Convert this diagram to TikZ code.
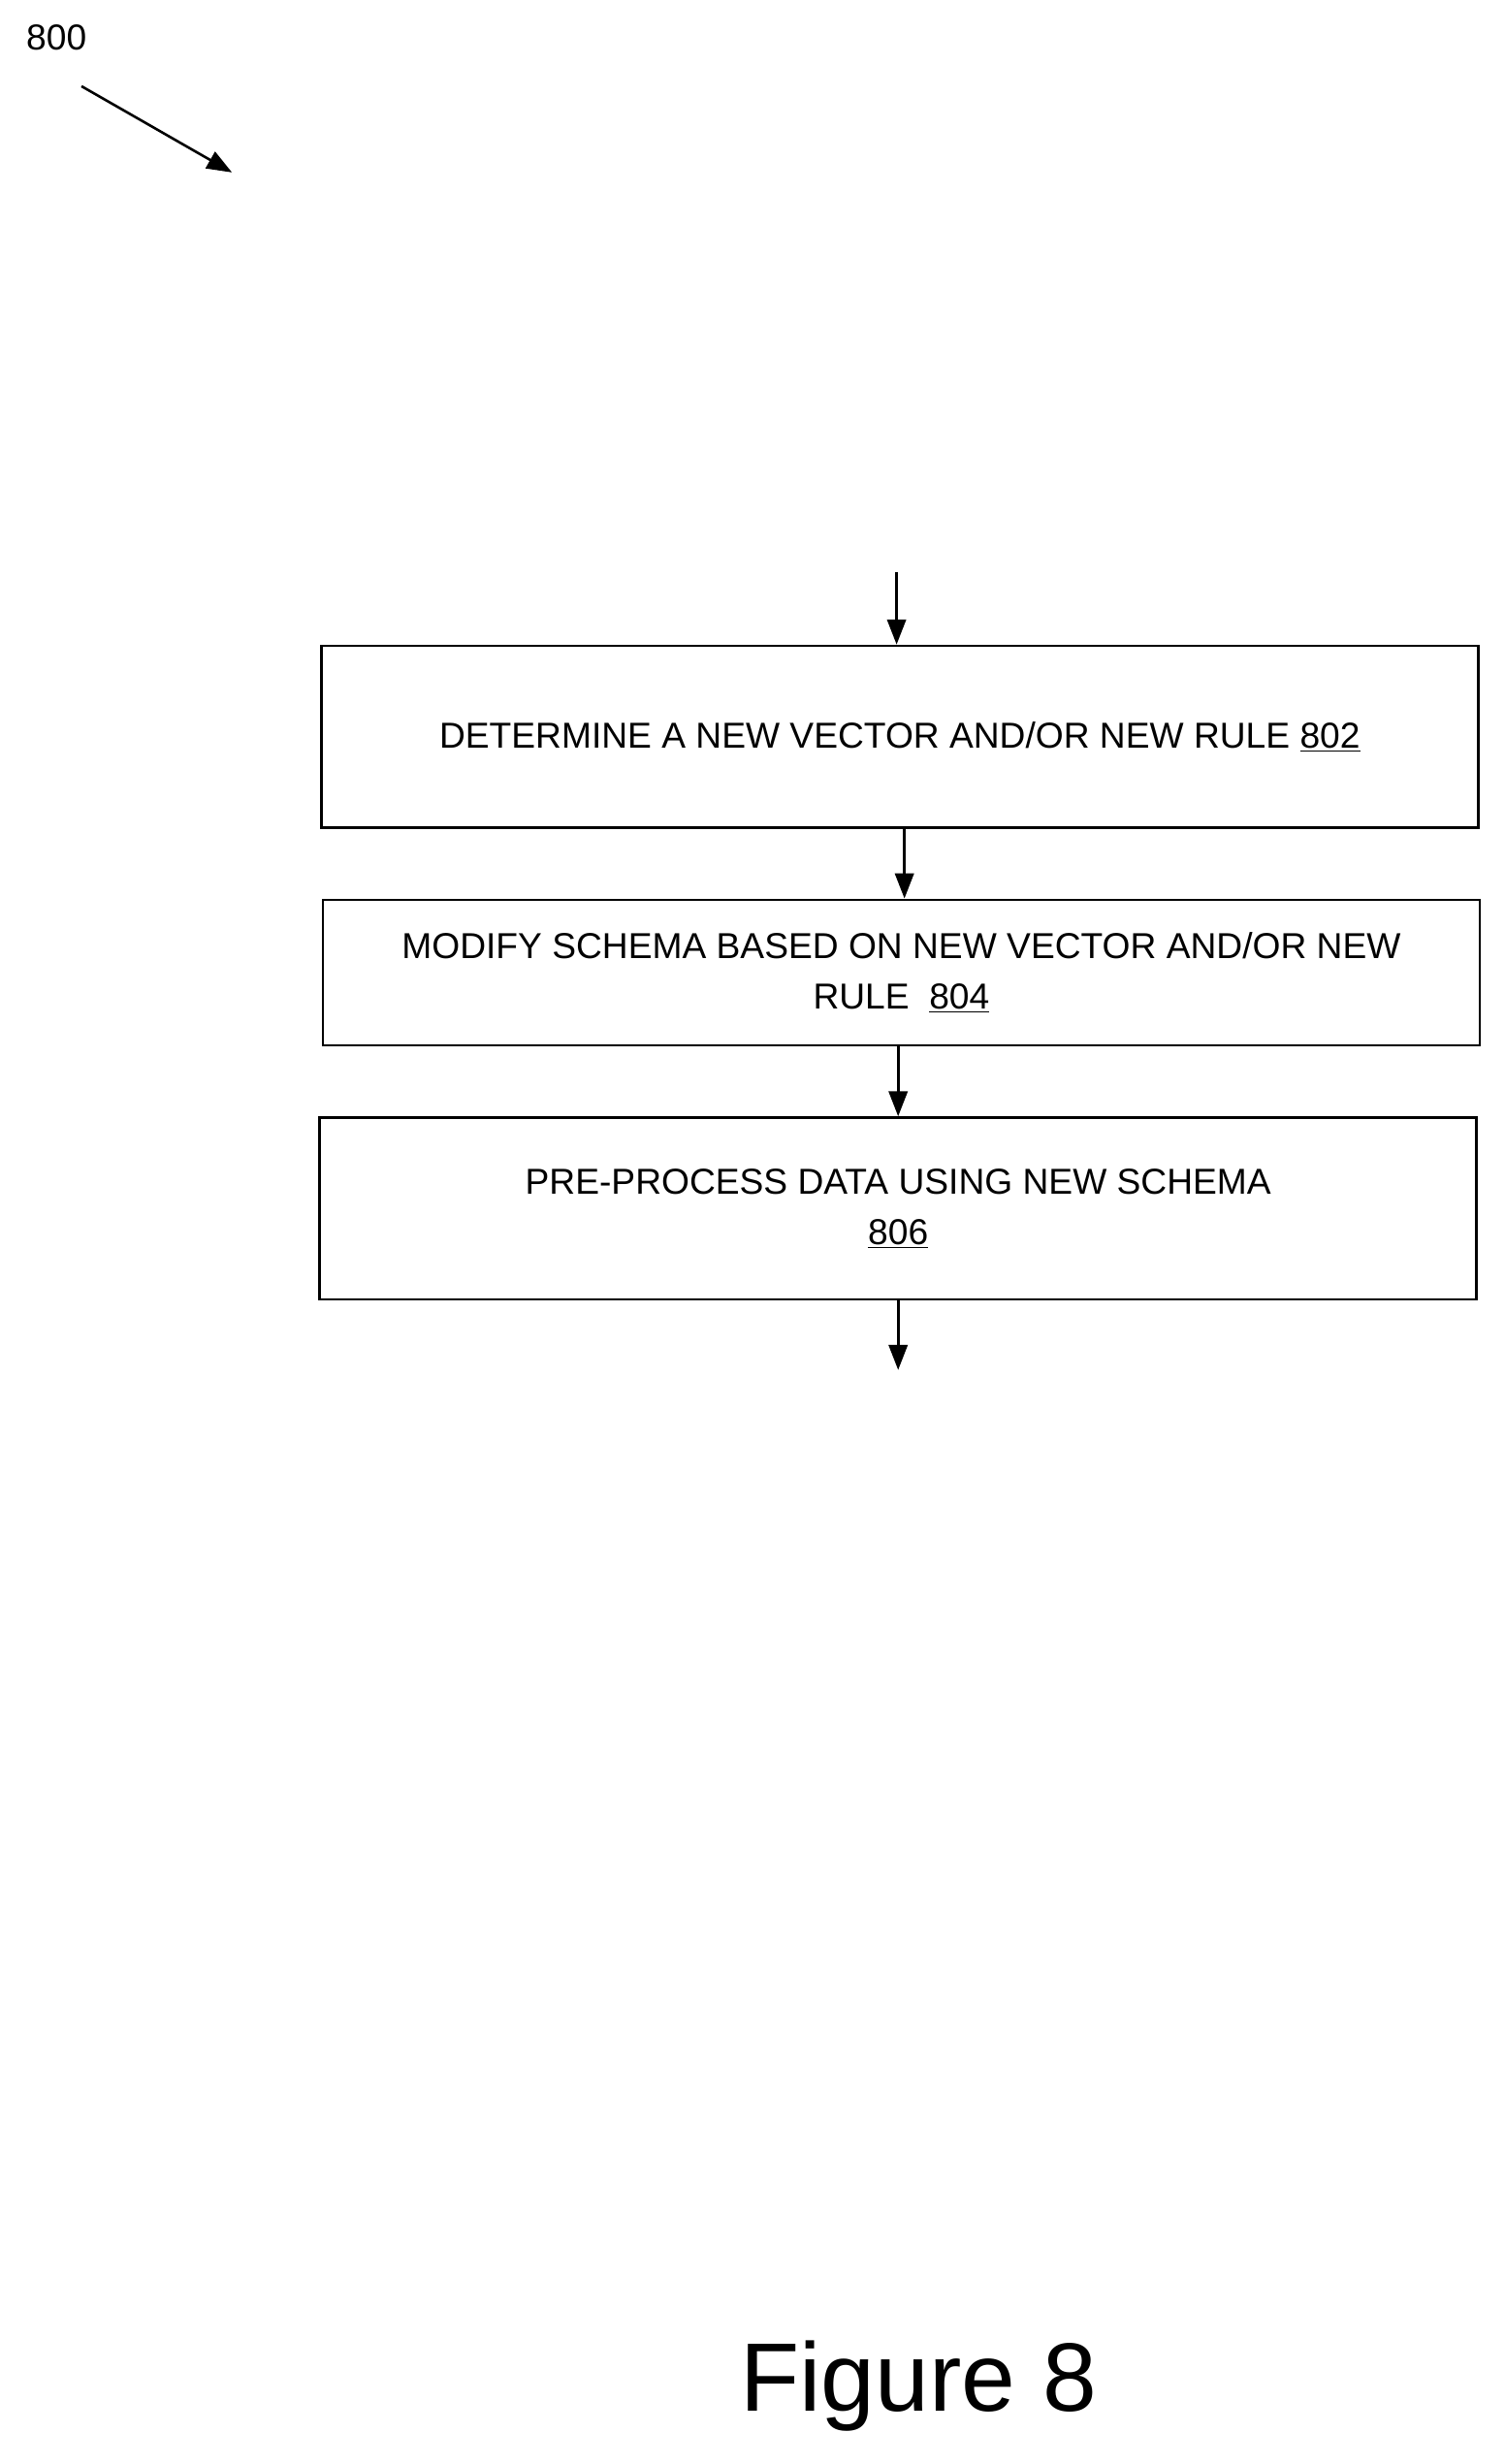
\documentclass[tikz,border=0pt]{standalone}
\usepackage{fontspec}
\setmainfont{Liberation Sans}
\usetikzlibrary{arrows.meta}
\begin{document}
\begin{tikzpicture}[x=1pt,y=-1pt,
  flow/.style={line width=1.6pt,-{Triangle[length=16pt,width=12pt]}},
  stepbox/.style={draw,line width=1.6pt,minimum width=738pt,inner sep=0pt,align=center,font=\fontsize{23}{32}\selectfont},
  lbl/.style={font=\fontsize{23}{28}\selectfont}]
\useasboundingbox (0,0) rectangle (960,1572);
\node[lbl] (n800) at (36,24) {800};
\coordinate (a1) at (52,55);
\coordinate (a2) at (148,110);
\draw[flow] (a1) -- (a2);
\node[stepbox,minimum height=116pt] (b1) at (574,470) {DETERMINE A NEW VECTOR AND/OR NEW RULE \underline{802}};
\node[stepbox,minimum height=93pt] (b2) at (575,620.5) {MODIFY SCHEMA BASED ON NEW VECTOR AND/OR NEW\\RULE\ \ \underline{804}};
\node[stepbox,minimum height=116pt] (b3) at (573,771) {PRE-PROCESS DATA USING NEW SCHEMA\\\underline{806}};
\coordinate (s) at (572,365);
\coordinate (e) at (573,874);
\draw[flow] (s) -- (b1.north -| s);
\draw[flow] (b1.south -| 577,0) -- (b2.north -| 577,0);
\draw[flow] (b2.south -| 573,0) -- (b3.north -| 573,0);
\draw[flow] (b3.south -| e) -- (e);
\node[font=\fontsize{62}{70}\selectfont] (fig) at (586,1522) {Figure 8};
\end{tikzpicture}
\end{document}
